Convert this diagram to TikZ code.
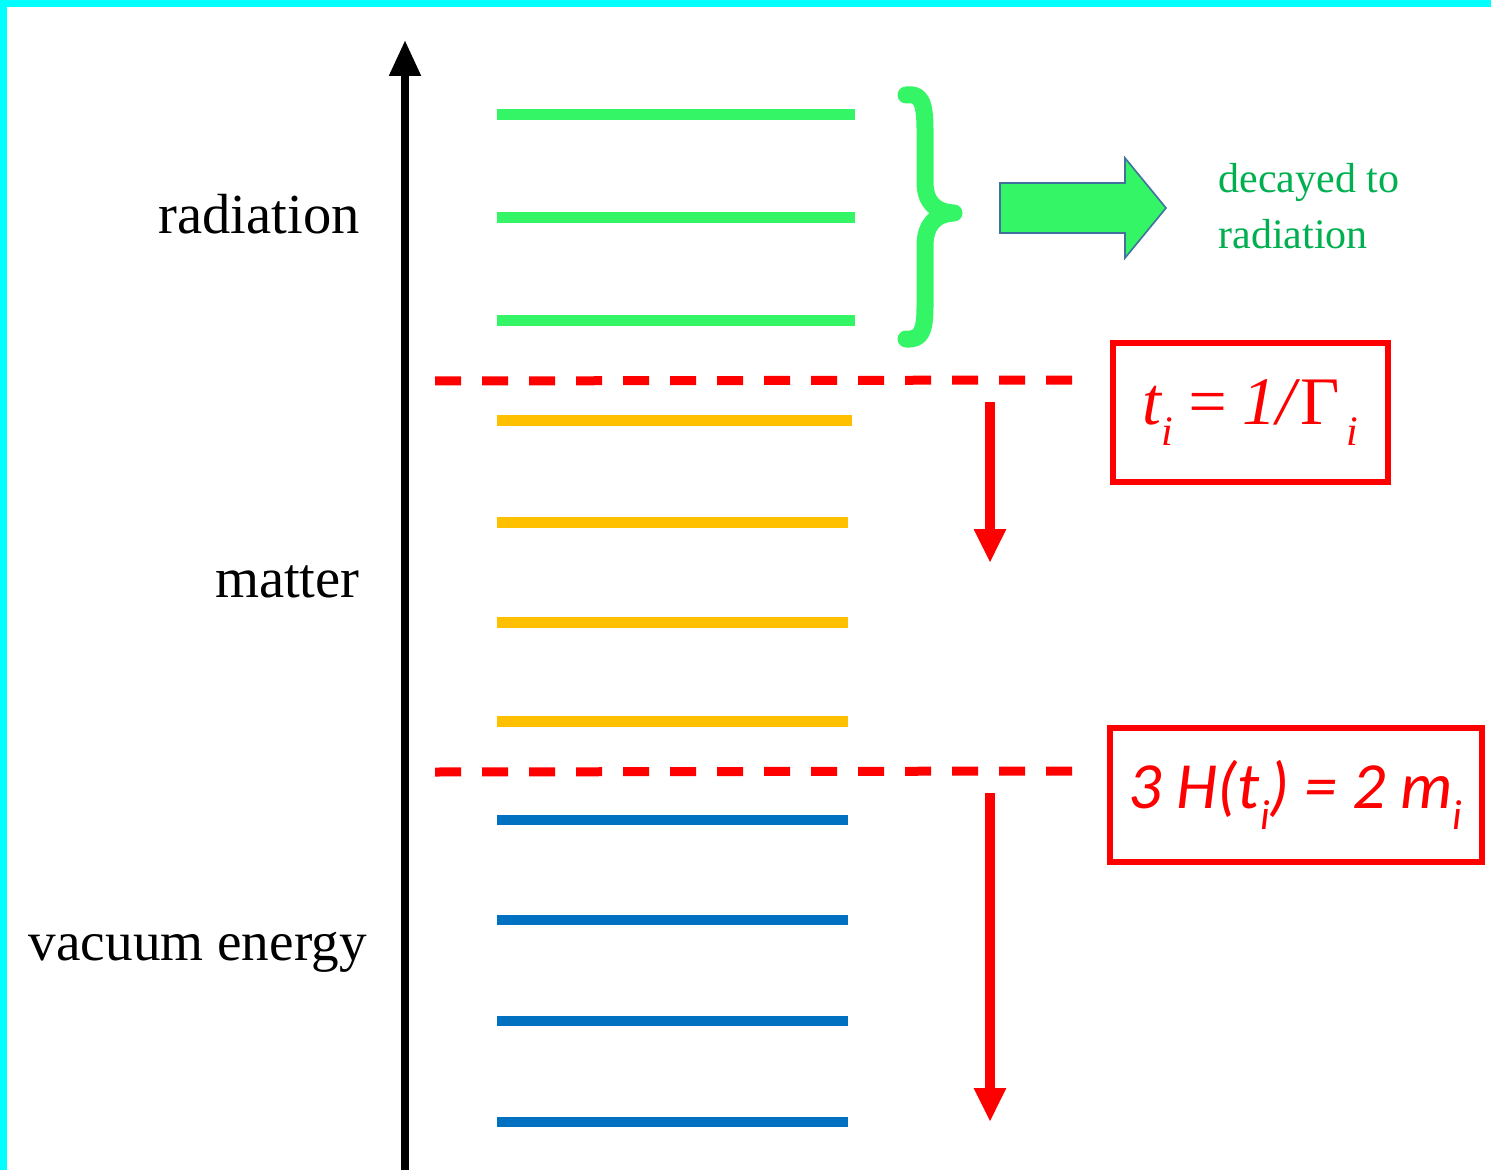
\documentclass[tikz,border=0pt]{standalone}
\usepackage{fontspec}
\setmainfont{Liberation Serif}
\newfontfamily\calfont{Carlito}
\usetikzlibrary{arrows.meta}
\definecolor{cyanb}{RGB}{0,255,255}
\definecolor{lvgreen}{RGB}{51,245,102}
\definecolor{lvorange}{RGB}{255,192,0}
\definecolor{lvblue}{RGB}{0,112,192}
\definecolor{txtgreen}{RGB}{0,176,80}
\definecolor{arrowedge}{RGB}{65,113,156}
\newcommand\lowsub[2]{\raisebox{-0.32em}{\fontsize{#1}{#1}\selectfont #2}}
\tikzset{
  greenlevel/.style={draw=lvgreen,line width=5.5pt},
  orangelevel/.style={draw=lvorange,line width=5.5pt},
  bluelevel/.style={draw=lvblue,line width=5pt},
  sepline/.style={draw=red,line width=4.5pt,dash pattern=on 13pt off 10.5pt},
  redarrow/.style={draw=red,line width=5pt,-{Triangle[width=15pt,length=17pt]}},
  axisarrow/.style={draw=black,line width=4pt,-{Triangle[width=15pt,length=18pt]}},
  sidelabel/.style={anchor=base east,inner sep=0pt,font=\fontsize{28.3pt}{30pt}\selectfont},
  eqbox/.style={draw=red,line width=3pt,text=red,inner sep=0pt},
  greentext/.style={anchor=base west,inner sep=0pt,text=txtgreen,font=\fontsize{21pt}{22pt}\selectfont},
}
\begin{document}
\begin{tikzpicture}[x=0.5pt,y=-0.5pt]
\fill[cyanb] (0,0) rectangle (1491,1170);
\fill[white] (7,7) rectangle (1491,1170);
\useasboundingbox (0,0) rectangle (1491,1170);

% axis
\coordinate (axisbot) at (405,1172);
\coordinate (axistop) at (405,40);
\draw[axisarrow] (axisbot) -- (axistop);

% side labels
\node[sidelabel] (lrad) at (360,234) {radiation};
\node[sidelabel] (lmat) at (360,597) {matter};
\node[sidelabel,font=\fontsize{27.6pt}{30pt}\selectfont] (lvac) at (367,960) {vacuum energy};

% levels
\foreach \y in {115,218,321} \draw[greenlevel] (497,\y) -- (855,\y);
\draw[orangelevel] (497,420) -- (852,420);
\foreach \y in {522,622,721} \draw[orangelevel] (497,\y) -- (848,\y);
\foreach \y in {820,920,1021,1122} \draw[bluelevel] (497,\y) -- (848,\y);

% dashed separators
\draw[sepline] (435,381) -- (1073,380);
\draw[sepline] (435,772) -- (1073,771);

% red down arrows
\coordinate (ra1s) at (990,402);
\coordinate (ra1e) at (990,563);
\coordinate (ra2s) at (990,793);
\coordinate (ra2e) at (990,1122);
\draw[redarrow] (ra1s) -- (ra1e);
\draw[redarrow] (ra2s) -- (ra2e);

% boxes
\node[eqbox,minimum width=137.5pt,minimum height=69pt] (box1) at (1250.5,412.5)
  {\fontsize{34pt}{36pt}\selectfont\itshape t\lowsub{21pt}{i}\,=\,1/\textup{Γ}\lowsub{21pt}{\,i}};
\node[eqbox,minimum width=186pt,minimum height=67pt] (box2) at (1295.5,795)
  {\calfont\itshape\fontsize{33pt}{35pt}\selectfont 3 H(t\lowsub{21pt}{i}) = 2 m\lowsub{21pt}{i}};

% brace
\draw[lvgreen,line width=8.5pt,line cap=round,line join=round]
  (906,95) .. controls (921,93) and (925,102) .. (925,130) -- (925,182)
  .. controls (925,202) and (935,212) .. (954,213)
  .. controls (935,214) and (925,225) .. (925,246) -- (925,306)
  .. controls (925,332) and (921,340) .. (906,339);

% block arrow
\filldraw[fill=lvgreen,draw=arrowedge,line width=0.8pt]
  (1000,183) -- (1125,183) -- (1125,158) -- (1166,208) -- (1125,258) -- (1125,233) -- (1000,233) -- cycle;

% green text
\node[greentext] (dec1) at (1218,193) {decayed to};
\node[greentext] (dec2) at (1218,249) {radiation};
\end{tikzpicture}
\end{document}
